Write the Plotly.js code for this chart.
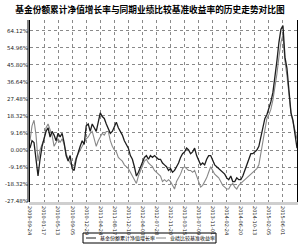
<!DOCTYPE html>
<html>
<head>
<meta charset="utf-8">
<script src="https://cdn.plot.ly/plotly-3.0.1.min.js"></script>
<style>html,body{margin:0;padding:0;background:#fff;}#chart{width:300px;height:246px;}</style>
</head>
<body>
<div id="chart"></div>
<script>
const chartTitle = "基金份额累计净值增长率与同期业绩比较基准收益率的历史走势对比图";
const seriesNames = ["基金份额累计净值增长率", "业绩比较基准收益率"];
const fundGrowth = [1,5,4,-6,-14,-5,2,6,10,12,7,10,8,5,9,7,9,4,-3,-6,-3,-10,-11,-5,-1,2,5,3,13,14,10,14,12,10,15,20,18,17,14,11,9,10,13,15,12,10,8,5,3,1,-3,-5,-9,-14,-12,-9,-6,-4,-3,-5,-3,-4,-3,-4,-5,-5,-7,-8,-9,-11,-10,-12,-11,-9,-7,-4,-2,-1,1,0,-2,-1,1,-3,-6,-8,-7,-8,-5,-3,-3,-6,-8,-9,-10,-11,-12,-13,-15,-16,-14,-17,-17,-15,-16,-16,-14,-11,-7,-4,-2,-2,-1,0,2,7,13,17,19,22,26,31,39,48,58,65,67,50,44,32,20,16,8,1];
const benchGrowth = [5,13,16,8,-6,0,3,6,12,14,11,8,2,4,6,4,6,3,-2,-5,-7,-9,-8,-4,-2,0,2,4,6,7,9,10,6,2,5,7,9,8,10,10,5,2,0,-1,-4,-5,-6,-8,-9,-10,-12,-14,-16,-18,-14,-11,-8,-6,-5,-7,-8,-9,-11,-12,-13,-14,-17,-16,-17,-16,-17,-19,-21,-17,-15,-13,-10,-9,-10,-11,-11,-12,-11,-14,-18,-20,-19,-17,-15,-12,-9,-11,-13,-14,-15,-17,-19,-20,-21,-21,-19,-18,-20,-21,-19,-18,-17,-16,-15,-14,-13,-12,-11,-10,-8,-2,5,12,17,19,22,27,33,41,50,58,62,48,40,30,20,15,10,6];
const tickIndex = [0,7,14,21,28,35,42,49,56,63,70,77,84,91,98,105,112,119,126,133];
const tickDates = ["2009-09-24","2010-01-17","2010-05-13","2010-09-05","2010-12-29","2011-04-24","2011-08-17","2011-12-10","2012-04-03","2012-07-28","2012-11-20","2013-03-15","2013-07-09","2013-11-01","2014-02-24","2014-06-20","2014-10-13","2015-02-05","2015-06-01","2015-09-30"];
const yTicks = [-27.48,-18.32,-9.16,0,9.16,18.32,27.48,36.64,45.80,54.96,64.12];
const yTickText = ["-27.48%","-18.32%","-9.16%","0.00%","9.16%","18.32%","27.48%","36.64%","45.80%","54.96%","64.12%"];

const xs = fundGrowth.map((_, i) => i);
const traces = [
  {x: xs, y: benchGrowth, type: 'scatter', mode: 'lines', name: seriesNames[1], line: {color: '#888888', width: 1.1}},
  {x: xs, y: fundGrowth, type: 'scatter', mode: 'lines', name: seriesNames[0], line: {color: '#1e1e1e', width: 1.3}}
];
const L = 30, R = 297, T = 20, B = 202;
const px = v => (v - L) / (R - L);
const py = v => (B - v) / (B - T);
const layout = {
  width: 300, height: 246,
  margin: {l: L, r: 300 - R, t: T, b: 246 - B, pad: 0},
  paper_bgcolor: '#fff', plot_bgcolor: '#fff',
  showlegend: false,
  title: {text: chartTitle, font: {family: 'Noto Sans CJK SC', size: 8.7, color: '#000', weight: 'bold'}, x: 0.5, xanchor: 'center', y: 0.958, yanchor: 'middle', yref: 'container'},
  xaxis: {
    range: [0, 133], tickvals: tickIndex, ticktext: tickDates, tickangle: 90,
    tickfont: {family: 'DejaVu Sans', size: 5, color: '#222'},
    showgrid: true, gridcolor: '#8a8a8a', griddash: 'dot', gridwidth: 1,
    showline: true, linecolor: '#cfcfcf', linewidth: 3, ticks: '', zeroline: false, fixedrange: true
  },
  yaxis: {
    range: [-28, 70], tickvals: yTicks, ticktext: yTickText,
    tickfont: {family: 'DejaVu Sans', size: 5.5, color: '#222'},
    showgrid: true, gridcolor: '#8a8a8a', griddash: 'dot', gridwidth: 1,
    showline: true, linecolor: '#000', linewidth: 1, mirror: true, ticks: '', zeroline: false, fixedrange: true
  },
  shapes: [
    {type: 'line', xref: 'paper', yref: 'paper', x0: px(28), x1: px(28), y0: 0, y1: 1, line: {color: '#000', width: 1}},
    {type: 'rect', xref: 'paper', yref: 'paper', x0: px(83), x1: px(216), y0: py(243), y1: py(233), line: {color: '#000', width: 1}, fillcolor: 'rgba(0,0,0,0)'},
    {type: 'line', xref: 'paper', yref: 'paper', x0: px(86), x1: px(96), y0: py(238), y1: py(238), line: {color: '#1e1e1e', width: 1}},
    {type: 'line', xref: 'paper', yref: 'paper', x0: px(156), x1: px(166), y0: py(238), y1: py(238), line: {color: '#888888', width: 1}}
  ],
  annotations: [
    {xref: 'paper', yref: 'paper', x: px(98), y: py(238), xanchor: 'left', yanchor: 'middle', showarrow: false, text: seriesNames[0], font: {family: 'Noto Sans CJK SC', size: 5, color: '#000'}},
    {xref: 'paper', yref: 'paper', x: px(168), y: py(238), xanchor: 'left', yanchor: 'middle', showarrow: false, text: seriesNames[1], font: {family: 'Noto Sans CJK SC', size: 5, color: '#000'}}
  ]
};
Plotly.newPlot('chart', traces, layout, {displayModeBar: false, staticPlot: true});
</script>
</body>
</html>
